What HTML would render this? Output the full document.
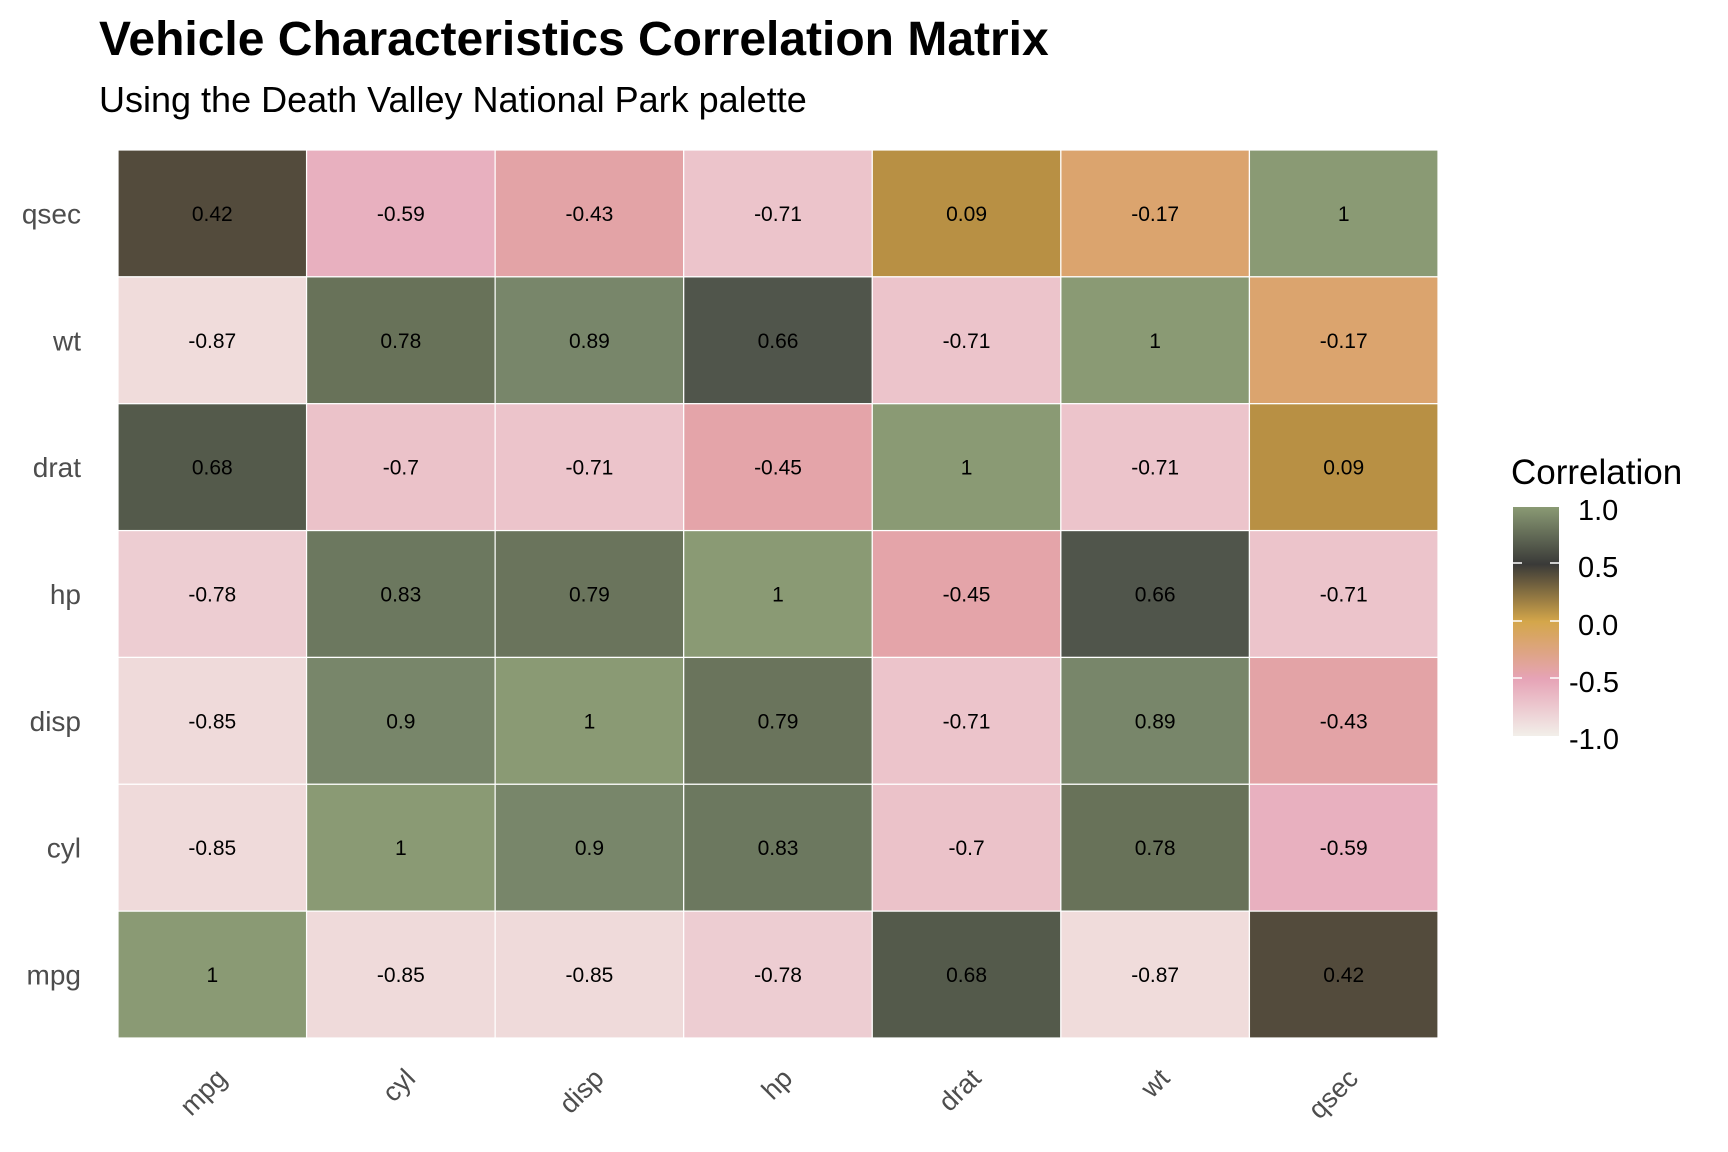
<!DOCTYPE html>
<html><head><meta charset="utf-8"><style>html,body{margin:0;padding:0;background:#fff}svg{display:block}</style></head>
<body>
<svg width="1728" height="1152" viewBox="0 0 1728 1152" xmlns="http://www.w3.org/2000/svg" font-family="Liberation Sans, Arial, sans-serif">
<defs>
<linearGradient id="g" x1="0" y1="1" x2="0" y2="0">
<stop offset="0" stop-color="#f2efe9"/>
<stop offset="0.25" stop-color="#e6a3b6"/>
<stop offset="0.5" stop-color="#d4a64a"/>
<stop offset="0.75" stop-color="#3a3a38"/>
<stop offset="1" stop-color="#8a9a74"/>
</linearGradient>
</defs>
<text x="99" y="55" font-size="48" font-weight="bold" fill="#000">Vehicle Characteristics Correlation Matrix</text>
<text x="99" y="112" font-size="36" fill="#000">Using the Death Valley National Park palette</text>
<g id="tiles" stroke="#fff" stroke-width="1.2"></g>
<g id="vals" font-size="21" fill="#000" text-anchor="middle"></g>
<g id="ylab" font-size="28" fill="#4d4d4d" text-anchor="end"></g>
<g id="xlab" font-size="27" fill="#4d4d4d" text-anchor="end"></g>
<g transform="translate(-9,0)">
<text x="1520" y="484" font-size="35" fill="#000">Correlation</text>
<rect x="1522" y="507" width="46" height="229" fill="url(#g)"/>
<g stroke="#fff" stroke-width="1.5">
<line x1="1522" y1="563" x2="1531" y2="563"/><line x1="1559" y1="563" x2="1568" y2="563"/>
<line x1="1522" y1="621" x2="1531" y2="621"/><line x1="1559" y1="621" x2="1568" y2="621"/>
<line x1="1522" y1="678" x2="1531" y2="678"/><line x1="1559" y1="678" x2="1568" y2="678"/>
</g>
<g font-size="29" fill="#000">
<text x="1587" y="520">1.0</text>
<text x="1587" y="577">0.5</text>
<text x="1587" y="635">0.0</text>
<text x="1578" y="692">-0.5</text>
<text x="1578" y="749">-1.0</text>
</g>
</g>
<script>
const names=["mpg","cyl","disp","hp","drat","wt","qsec"];
const M=[
[1,-0.85,-0.85,-0.78,0.68,-0.87,0.42],
[-0.85,1,0.9,0.83,-0.7,0.78,-0.59],
[-0.85,0.9,1,0.79,-0.71,0.89,-0.43],
[-0.78,0.83,0.79,1,-0.45,0.66,-0.71],
[0.68,-0.7,-0.71,-0.45,1,-0.71,0.09],
[-0.87,0.78,0.89,0.66,-0.71,1,-0.17],
[0.42,-0.59,-0.43,-0.71,0.09,-0.17,1]];
const C={"1":"#8a9a74","0.9":"#78866a","0.89":"#78866a","0.83":"#6c785f","0.79":"#6a745c","0.78":"#687259","0.68":"#545a4b","0.66":"#50554b","0.42":"#534b3c","0.09":"#b89044","-0.17":"#dba46e","-0.43":"#e3a3a6","-0.45":"#e4a4a9","-0.59":"#e8b0bf","-0.7":"#ebc2c9","-0.71":"#ecc4cb","-0.78":"#edcdd2","-0.85":"#efdada","-0.87":"#f0dcdb"};
const ns="http://www.w3.org/2000/svg";
const x0=118,y0=150,w=1320/7,h=888/7;
const T=document.getElementById("tiles"),V=document.getElementById("vals"),YL=document.getElementById("ylab"),XL=document.getElementById("xlab");
function el(t,a,txt){const e=document.createElementNS(ns,t);for(const k in a)e.setAttribute(k,a[k]);if(txt!==undefined)e.textContent=txt;return e;}
for(let r=0;r<7;r++){const yi=6-r;
 for(let c=0;c<7;c++){const v=M[yi][c];const x=x0+c*w,y=y0+r*h;
  T.appendChild(el("rect",{x:x,y:y,width:w,height:h,fill:C[String(v)]}));
  V.appendChild(el("text",{x:x+w/2,y:y+h/2+7.5},String(v)));}
 YL.appendChild(el("text",{x:81,y:y0+r*h+h/2+10},names[yi]));}
for(let c=0;c<7;c++){const cx=x0+c*w+w/2+16;
 XL.appendChild(el("text",{x:cx,y:1080,transform:"rotate(-45 "+cx+" 1080)"},names[c]));}
</script>
</svg>
</body></html>
